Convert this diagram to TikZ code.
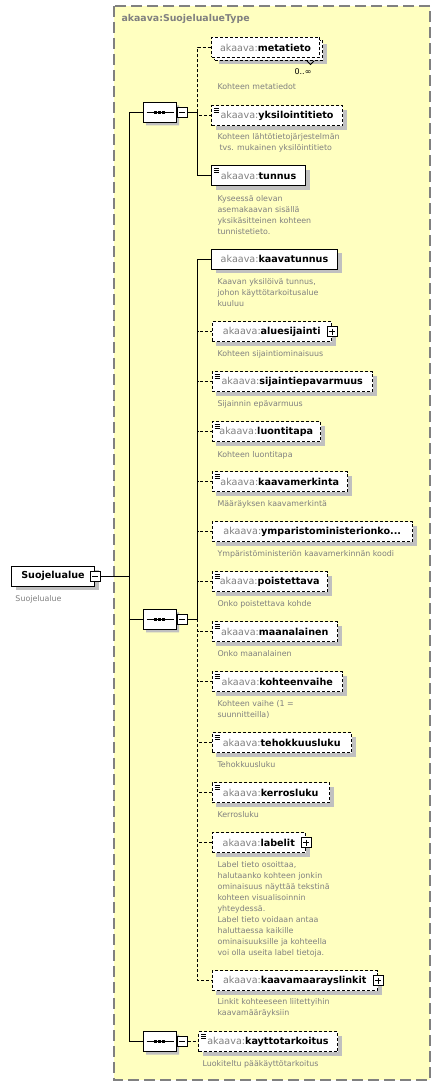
\documentclass[tikz,border=0pt]{standalone}
\usepackage{fontspec}
\setmainfont{DejaVu Sans}
\usetikzlibrary{shadows,shapes.misc}

\definecolor{typebg}{HTML}{FFFFC0}
\definecolor{labelgray}{HTML}{808080}
\definecolor{shadowgray}{HTML}{C0C0C0}

\newcommand{\el}[1]{\textcolor{labelgray}{akaava:}\textbf{#1}}
\newcommand{\seqdots}[1]{%
	\draw ([xshift=4pt]#1.west) -- ([xshift=-3pt]#1.east);
	\foreach \dx in {-4,0,4}
		\fill ([xshift=\dx pt]#1.center) +(-1.5, -1.5) rectangle +(1.5, 1.5);
}

\tikzset{
	typebox/.style={fill=typebg, draw=labelgray, line width=1.4pt, dash pattern=on 11pt off 5pt},
	elembox/.style={rectangle, draw, fill=white, anchor=west, minimum height=20pt, inner xsep=3pt, inner ysep=0pt, font=\fontsize{9.6}{11}\selectfont},
	boxshadow/.style={drop shadow={shadow xshift=4pt, shadow yshift=-4pt, fill=shadowgray, opacity=1}},
	optional/.style={dash pattern=on 3pt off 2pt},
	docmark/.style={path picture={
		\foreach \dy in {2.5,4.5,6.5}
			\draw[solid, line width=0.8pt] ([shift={(2.5pt,-\dy pt)}]path picture bounding box.north west) -- ++(5pt,0pt);
	}},
	minusbox/.style={rectangle, draw, solid, fill=white, minimum width=10pt, minimum height=10pt, inner sep=0pt,
		path picture={\draw ([xshift=2pt]path picture bounding box.west) -- ([xshift=-2pt]path picture bounding box.east);}},
	plusbox/.style={rectangle, draw, solid, fill=white, minimum width=10pt, minimum height=10pt, inner sep=0pt,
		path picture={\draw ([xshift=2pt]path picture bounding box.west) -- ([xshift=-2pt]path picture bounding box.east);
			\draw ([yshift=-2pt]path picture bounding box.north) -- ([yshift=2pt]path picture bounding box.south);}},
	seqbox/.style={chamfered rectangle, chamfered rectangle xsep=6pt, draw, fill=white, minimum width=33pt, minimum height=20pt, inner sep=0pt,
		drop shadow={shadow xshift=3pt, shadow yshift=-3pt, fill=shadowgray, opacity=1}},
	desc/.style={anchor=north west, inner sep=0pt, align=left, text=labelgray, font=\fontsize{7.9}{11}\selectfont},
}

\begin{document}
\begin{tikzpicture}[x=1pt, y=-1pt, line width=1pt]
	\useasboundingbox (0, 0) rectangle (441, 1086);
	\draw[typebox] (114, 6) rectangle (430, 1080);
	\draw (121, 14) node [anchor=north west, inner sep=0pt, text=labelgray, font=\bfseries\fontsize{9.4}{11}\selectfont] (typename) {akaava:SuojelualueType};

	% root element
	\draw (11, 576) node [elembox, boxshadow, minimum width=83pt] (root) {\textbf{Suojelualue}};
	\draw (root.east) node [minusbox] (rootm) {};
	\draw (15, 595) node [desc] (rootdoc) {Suojelualue};

	% compositors
	\draw (159.5, 112.5) node [seqbox] (seqa) {};
	\draw (seqa.east) node [minusbox, anchor=west] (seqam) {};
	\seqdots{seqa}
	\draw (159.5, 619.3) node [seqbox] (seqb) {};
	\draw (seqb.east) node [minusbox, anchor=west] (seqbm) {};
	\seqdots{seqb}
	\draw (159.5, 1041.7) node [seqbox] (seqc) {};
	\draw (seqc.east) node [minusbox, anchor=west] (seqcm) {};
	\seqdots{seqc}

	% first sequence
	\draw (214, 50.5) node [elembox, optional, boxshadow, minimum width=108pt] (metatietostack) {};
	\draw[line width=0.8pt] ([xshift=-16pt]metatietostack.south east) -- ++(3.5, 3.5) -- ++(3.5, -3.5);
	\draw (211, 47.5) node [elembox, optional, minimum width=108pt] (metatieto) {\el{metatieto}};
	\draw (303, 71.5) node [inner sep=0pt, font=\fontsize{8}{10}\selectfont] (metatietocount) {0..∞};
	\draw (217, 83) node [desc] (metatietodoc) {Kohteen metatiedot};
	\draw (211, 115.7) node [elembox, optional, boxshadow, docmark, minimum width=131pt] (yksilointitieto) {\el{yksilointitieto}};
	\draw (217, 133) node [desc] (yksilointitietodoc) {Kohteen lähtötietojärjestelmän\\\hspace*{2pt}tvs. mukainen yksilöintitieto};
	\draw (211, 176) node [elembox, boxshadow, docmark, minimum width=94pt] (tunnus) {\el{tunnus}};
	\draw (217, 195) node [desc] (tunnusdoc) {Kyseessä olevan\\asemakaavan sisällä\\yksikäsitteinen kohteen\\tunnistetieto.};

	% second sequence
	\draw (211, 259.3) node [elembox, boxshadow, minimum width=126pt] (kaavatunnus) {\el{kaavatunnus}};
	\draw (217, 278) node [desc] (kaavatunnusdoc) {Kaavan yksilöivä tunnus,\\johon käyttötarkoitusalue\\kuuluu};
	\draw (211.5, 331.8) node [elembox, optional, boxshadow, minimum width=119.5pt] (aluesijainti) {\el{aluesijainti}\hspace{4pt}};
	\draw (aluesijainti.east) node [plusbox] (aluesijaintip) {};
	\draw (217, 350) node [desc] (aluesijaintidoc) {Kohteen sijaintiominaisuus};
	\draw (211.5, 381.5) node [elembox, optional, boxshadow, docmark, minimum width=160.5pt] (sijaintiepavarmuus) {\el{sijaintiepavarmuus}};
	\draw (217, 400) node [desc] (sijaintiepavarmuusdoc) {Sijainnin epävarmuus};
	\draw (211.5, 431.7) node [elembox, optional, boxshadow, docmark, minimum width=108.5pt] (luontitapa) {\el{luontitapa}};
	\draw (217, 450.5) node [desc] (luontitapadoc) {Kohteen luontitapa};
	\draw (211.5, 481.8) node [elembox, optional, boxshadow, docmark, minimum width=135.5pt] (kaavamerkinta) {\el{kaavamerkinta}};
	\draw (217, 500) node [desc] (kaavamerkintadoc) {Määräyksen kaavamerkintä};
	\draw (211.5, 531.8) node [elembox, optional, boxshadow, minimum width=200.5pt] (ymparisto) {\el{ymparistoministerionko...}};
	\draw (217, 550) node [desc] (ymparistodoc) {Ympäristöministeriön kaavamerkinnän koodi};
	\draw (211.5, 581.8) node [elembox, optional, boxshadow, docmark, minimum width=115.5pt] (poistettava) {\el{poistettava}};
	\draw (217, 600) node [desc] (poistettavadoc) {Onko poistettava kohde};
	\draw (211.5, 631.8) node [elembox, optional, boxshadow, docmark, minimum width=125.5pt] (maanalainen) {\el{maanalainen}};
	\draw (217, 650) node [desc] (maanalainendoc) {Onko maanalainen};
	\draw (211.5, 681.8) node [elembox, optional, boxshadow, docmark, minimum width=130.5pt] (kohteenvaihe) {\el{kohteenvaihe}};
	\draw (217, 700) node [desc] (kohteenvaihedoc) {Kohteen vaihe (1 =\\suunnitteilla)};
	\draw (211.5, 742.5) node [elembox, optional, boxshadow, docmark, minimum width=139.5pt] (tehokkuusluku) {\el{tehokkuusluku}};
	\draw (217, 761) node [desc] (tehokkuuslukudoc) {Tehokkuusluku};
	\draw (211.5, 792.7) node [elembox, optional, boxshadow, docmark, minimum width=117.5pt] (kerrosluku) {\el{kerrosluku}};
	\draw (217, 811) node [desc] (kerroslukudoc) {Kerrosluku};
	\draw (211.5, 842.7) node [elembox, optional, boxshadow, minimum width=93.5pt] (labelit) {\el{labelit}\hspace{3pt}};
	\draw (labelit.east) node [plusbox] (labelitp) {};
	\draw (217, 861) node [desc] (labelitdoc) {Label tieto osoittaa,\\halutaanko kohteen jonkin\\ominaisuus näyttää tekstinä\\kohteen visualisoinnin\\yhteydessä.\\Label tieto voidaan antaa\\haluttaessa kaikille\\ominaisuuksille ja kohteella\\voi olla useita label tietoja.};
	\draw (211.5, 980.5) node [elembox, optional, boxshadow, minimum width=165.5pt] (kaavamaarayslinkit) {\el{kaavamaarayslinkit}\hspace{3pt}};
	\draw (kaavamaarayslinkit.east) node [plusbox] (kaavamaarayslinkitp) {};
	\draw (217, 998) node [desc] (kaavamaarayslinkitdoc) {Linkit kohteeseen liitettyihin\\kaavamääräyksiin};

	% third sequence
	\draw (198, 1041.7) node [elembox, optional, boxshadow, docmark, minimum width=139pt] (kayttotarkoitus) {\el{kayttotarkoitus}};
	\draw (202, 1060) node [desc] (kayttotarkoitusdoc) {Luokiteltu pääkäyttötarkoitus};

	% connectors
	\draw (rootm.east) -- ++(28.5, 0) |- (seqa.west);
	\draw (rootm.east) -- ++(28.5, 0) |- (seqb.west);
	\draw (rootm.east) -- ++(28.5, 0) |- (seqc.west);
	\draw[optional] (seqam.east) -- ++(10, 0) |- (metatieto.west);
	\draw[optional] (seqam.east) -- ++(10, 0) |- (yksilointitieto.west);
	\draw (seqam.east) -- ++(10, 0) |- (tunnus.west);
	\draw[optional] (seqbm.east) -- ++(10, 0) |- (aluesijainti.west);
	\draw[optional] (seqbm.east) -- ++(10, 0) |- (sijaintiepavarmuus.west);
	\draw[optional] (seqbm.east) -- ++(10, 0) |- (luontitapa.west);
	\draw[optional] (seqbm.east) -- ++(10, 0) |- (kaavamerkinta.west);
	\draw[optional] (seqbm.east) -- ++(10, 0) |- (ymparisto.west);
	\draw[optional] (seqbm.east) -- ++(10, 0) |- (poistettava.west);
	\draw[optional] (seqbm.east) -- ++(10, 0) |- (maanalainen.west);
	\draw[optional] (seqbm.east) -- ++(10, 0) |- (kohteenvaihe.west);
	\draw[optional] (seqbm.east) -- ++(10, 0) |- (tehokkuusluku.west);
	\draw[optional] (seqbm.east) -- ++(10, 0) |- (kerrosluku.west);
	\draw[optional] (seqbm.east) -- ++(10, 0) |- (labelit.west);
	\draw[optional] (seqbm.east) -- ++(10, 0) |- (kaavamaarayslinkit.west);
	\draw (seqbm.east) -- ++(10, 0) |- (kaavatunnus.west);
	\draw[optional] (seqcm.east) -- (kayttotarkoitus.west);
\end{tikzpicture}
\end{document}
